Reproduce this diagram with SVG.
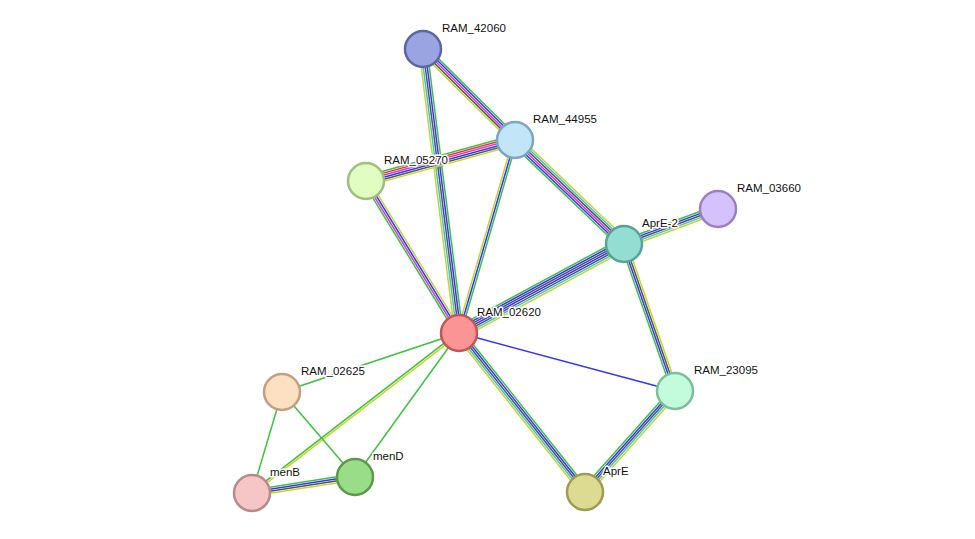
<svg xmlns="http://www.w3.org/2000/svg" width="975" height="539" viewBox="0 0 975 539">
<style>
line{stroke-width:1.5;fill:none}
.g{stroke:#3cc23c}.b{stroke:#3434ff}.k{stroke:#555}.c{stroke:#40c0d8}.y{stroke:#c6d630}.m{stroke:#d040d0}.r{stroke:#f03030}
circle{stroke-width:2.5}
text{font-family:"Liberation Sans",Arial,sans-serif;font-size:11.5px;fill:#111;stroke:#fff;stroke-width:3;paint-order:stroke;stroke-linejoin:round}
</style>
<rect width="975" height="539" fill="#fff"/>
<g id="edges">
<g transform="translate(423,49) rotate(44.7)"><line class="g" x2="129.4" y1="-4" y2="-4"/><line class="b" x2="129.4" y1="-2" y2="-2"/><line class="m" x2="129.4"/><line class="k" x2="129.4" y1="2" y2="2"/><line class="y" x2="129.4" y1="4" y2="4"/></g>
<g transform="translate(423,49) rotate(82.8)"><line class="g" x2="286.3" y1="-4" y2="-4"/><line class="b" x2="286.3" y1="-2" y2="-2"/><line class="k" x2="286.3"/><line class="c" x2="286.3" y1="2" y2="2"/><line class="y" x2="286.3" y1="4" y2="4"/></g>
<g transform="translate(515,140) rotate(164.6)"><line class="g" x2="154.5" y1="5" y2="5"/><line class="r" x2="154.5" y1="3" y2="3"/><line class="m" x2="154.5" y1="1" y2="1"/><line class="b" x2="154.5" y1="-1" y2="-1"/><line class="k" x2="154.5" y1="-3" y2="-3"/><line class="y" x2="154.5" y1="-5" y2="-5"/></g>
<g transform="translate(515,140) rotate(106.2)"><line class="g" x2="201" y1="-2" y2="-2"/><line class="b" x2="201"/><line class="y" x2="201" y1="2" y2="2"/></g>
<g transform="translate(515,140) rotate(43.7)"><line class="g" x2="150.7" y1="5" y2="5"/><line class="b" x2="150.7" y1="3" y2="3"/><line class="m" x2="150.7" y1="1" y2="1"/><line class="k" x2="150.7" y1="-1" y2="-1"/><line class="c" x2="150.7" y1="-3" y2="-3"/><line class="y" x2="150.7" y1="-5" y2="-5"/></g>
<g transform="translate(366,181) rotate(58.5)"><line class="g" x2="178.2" y1="3" y2="3"/><line class="m" x2="178.2" y1="1" y2="1"/><line class="b" x2="178.2" y1="-1" y2="-1"/><line class="y" x2="178.2" y1="-3" y2="-3"/></g>
<g transform="translate(718,209) rotate(159.6)"><line class="g" x2="100.3" y1="4" y2="4"/><line class="b" x2="100.3" y1="2" y2="2"/><line class="k" x2="100.3"/><line class="c" x2="100.3" y1="-2" y2="-2"/><line class="y" x2="100.3" y1="-4" y2="-4"/></g>
<g transform="translate(624,244) rotate(151.7)"><line class="g" x2="187.5" y1="6" y2="6"/><line class="b" x2="187.5" y1="4" y2="4"/><line class="k" x2="187.5" y1="2" y2="2"/><line class="b" x2="187.5"/><line class="k" x2="187.5" y1="-2" y2="-2"/><line class="c" x2="187.5" y1="-4" y2="-4"/><line class="y" x2="187.5" y1="-6" y2="-6"/></g>
<g transform="translate(624,244) rotate(70.9)"><line class="g" x2="155.6" y1="3" y2="3"/><line class="b" x2="155.6" y1="1" y2="1"/><line class="k" x2="155.6" y1="-1" y2="-1"/><line class="y" x2="155.6" y1="-3" y2="-3"/></g>
<line class="b" x1="459" y1="333" x2="675" y2="391"/>
<g transform="translate(459,333) rotate(51.6)"><line class="g" x2="202.9" y1="-4" y2="-4"/><line class="b" x2="202.9" y1="-2" y2="-2"/><line class="k" x2="202.9"/><line class="c" x2="202.9" y1="2" y2="2"/><line class="y" x2="202.9" y1="4" y2="4"/></g>
<g transform="translate(675,391) rotate(131.7)"><line class="g" x2="135.3" y1="4" y2="4"/><line class="b" x2="135.3" y1="2" y2="2"/><line class="k" x2="135.3"/><line class="c" x2="135.3" y1="-2" y2="-2"/><line class="y" x2="135.3" y1="-4" y2="-4"/></g>
<line class="g" x1="459" y1="333" x2="282" y2="392"/>
<g transform="translate(459,333) rotate(142.3)"><line class="g" x2="261.6" y1="1" y2="1"/><line class="y" x2="261.6" y1="-1" y2="-1"/></g>
<line class="g" x1="459" y1="333" x2="355" y2="477"/>
<line class="g" x1="282" y1="392" x2="252" y2="493"/>
<line class="g" x1="282" y1="392" x2="355" y2="477"/>
<g transform="translate(252,493) rotate(-8.8)"><line class="g" x2="104.2" y1="-3" y2="-3"/><line class="b" x2="104.2" y1="-1" y2="-1"/><line class="k" x2="104.2" y1="1" y2="1"/><line class="y" x2="104.2" y1="3" y2="3"/></g>
</g>
<g id="RAM_42060"><circle cx="423" cy="49" r="18" fill="#99a4e0" stroke="#5a66a8"/><text x="442" y="32">RAM_42060</text></g>
<g id="RAM_44955"><circle cx="515" cy="140" r="18" fill="#c2e5f7" stroke="#7fa6c0"/><text x="533" y="123">RAM_44955</text></g>
<g id="RAM_05270"><circle cx="366" cy="181" r="18" fill="#e1fdc2" stroke="#a0bf7c"/><text x="384" y="164">RAM_05270</text></g>
<g id="RAM_03660"><circle cx="718" cy="209" r="18" fill="#d5c2fd" stroke="#9a80c0"/><text x="737" y="192">RAM_03660</text></g>
<g id="AprE-2"><circle cx="624" cy="244" r="18" fill="#93ddd2" stroke="#57a398"/><text x="642" y="227">AprE-2</text></g>
<g id="RAM_02620"><circle cx="459" cy="333" r="18" fill="#fb9595" stroke="#c15656"/><text x="477" y="316">RAM_02620</text></g>
<g id="RAM_02625"><circle cx="282" cy="392" r="18" fill="#fddfc2" stroke="#c0a080"/><text x="301" y="375">RAM_02625</text></g>
<g id="RAM_23095"><circle cx="675" cy="391" r="18" fill="#c2fcdc" stroke="#7cbf9a"/><text x="694" y="374">RAM_23095</text></g>
<g id="menB"><circle cx="252" cy="493" r="18" fill="#f6c6c6" stroke="#b88a8a"/><text x="270" y="476">menB</text></g>
<g id="menD"><circle cx="355" cy="477" r="18" fill="#99dd88" stroke="#5a9a4a"/><text x="373" y="460">menD</text></g>
<g id="AprE"><circle cx="585" cy="492" r="18" fill="#ddda92" stroke="#9f9c55"/><text x="603" y="475">AprE</text></g>
</svg>
